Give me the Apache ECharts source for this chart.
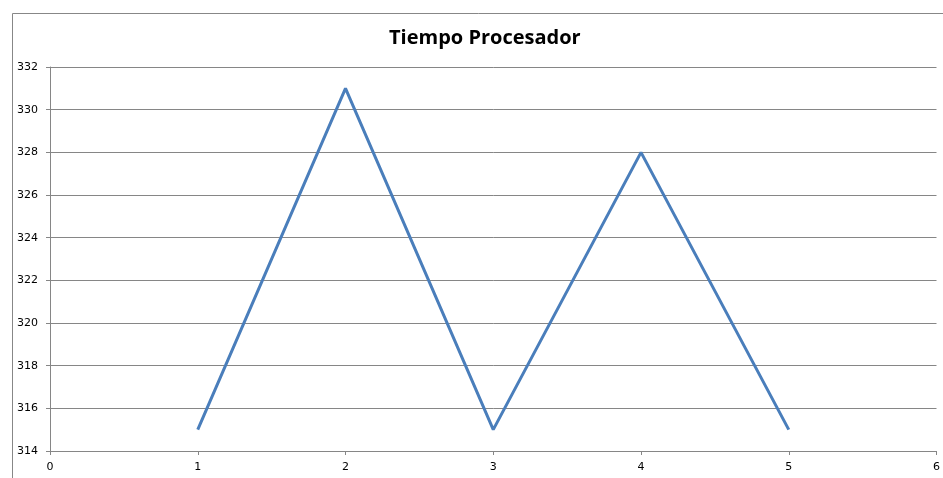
<!DOCTYPE html>
<html>
<head>
<meta charset="utf-8">
<style>html,body{margin:0;padding:0;background:#fff;}#c{width:943px;height:478px;}</style>
<script src="https://cdn.jsdelivr.net/npm/echarts@6/dist/echarts.min.js"></script>
</head>
<body>
<div id="c"></div>
<script>
const title = "Tiempo Procesador";
const xValues = [1, 2, 3, 4, 5];
const yValues = [315, 331, 315, 328, 315];
const xMin = 0, xMax = 6, xStep = 1;
const yMin = 314, yMax = 332, yStep = 2;

const chart = echarts.init(document.getElementById('c'), null, {renderer: 'canvas'});
const axisColor = '#868686';
chart.setOption({
  animation: false,
  backgroundColor: '#fff',
  title: {
    text: title, left: 384, top: 23, itemGap: 0,
    textStyle: {fontFamily: 'Open Sans', fontWeight: 'bold', fontSize: 20, color: '#000'}
  },
  graphic: [{
    type: 'rect', left: 10, top: 11, z: -1,
    shape: {width: 940, height: 480},
    style: {fill: 'none', stroke: '#878787', lineWidth: 1}
  }],
  grid: {left: 50, right: 6, top: 67, bottom: 27, containLabel: false},
  xAxis: {
    type: 'value', min: xMin, max: xMax, interval: xStep,
    axisLine: {show: true, lineStyle: {color: axisColor}},
    axisTick: {show: true, inside: false, length: 4, lineStyle: {color: axisColor}},
    axisLabel: {color: '#000', fontFamily: 'DejaVu Sans', fontSize: 11, margin: 11},
    splitLine: {show: false}
  },
  yAxis: {
    type: 'value', min: yMin, max: yMax, interval: yStep,
    axisLine: {show: true, lineStyle: {color: axisColor}},
    axisTick: {show: true, length: 4, lineStyle: {color: axisColor}},
    axisLabel: {color: '#000', fontFamily: 'DejaVu Sans', fontSize: 11, margin: 12},
    splitLine: {show: true, lineStyle: {color: axisColor, width: 1}}
  },
  series: [{
    type: 'line',
    data: xValues.map((x, i) => [x, yValues[i]]),
    symbol: 'none',
    lineStyle: {color: '#4A7EBB', width: 3},
    itemStyle: {color: '#4A7EBB'}
  }]
});
</script>
</body>
</html>
